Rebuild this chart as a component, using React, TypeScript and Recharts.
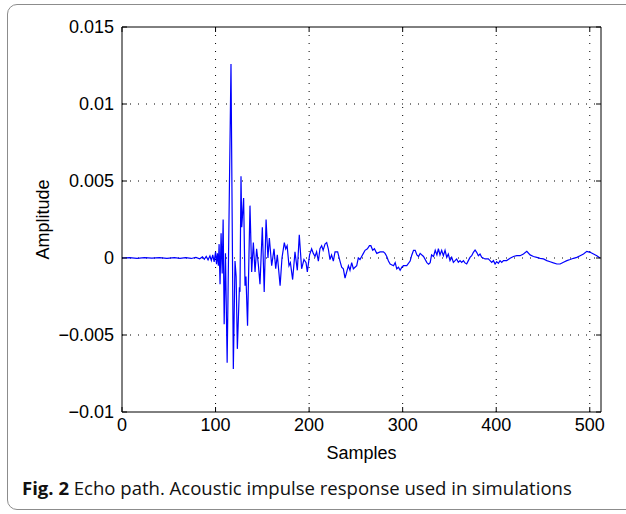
import { CartesianGrid, Label, Line, LineChart, XAxis, YAxis } from "recharts";

// impulse response (sample index, amplitude)
const samples = [
  0, 8, 16, 24, 32, 40, 48, 56, 62, 68, 74, 79, 83, 86, 88, 90, 92, 94, 95.5, 97,
  98.5, 100, 101, 102, 103, 103.8, 104.8, 105.9, 107.1, 108.1, 109.2, 110.6, 112.4, 116.5, 119, 120.8,
  122, 123.3, 125.5, 126.1, 127.2, 128, 130, 131.5, 132.5, 134.2, 136.8, 138.6, 140.4, 142.2,
  143.9, 145.7, 147.5, 150, 152, 154, 156, 157.5, 160, 162.5, 164.3, 166, 169, 171,
  173.5, 175, 176.5, 178.5, 180, 182.4, 184.9, 187.4, 189.5, 192, 194.5, 196.7, 198.1, 200.5,
  202.7, 204.5, 206.3, 208, 209.9, 211.6, 213.4, 215, 217, 218.8, 220.5, 222.3, 224, 225.9,
  227.7, 230.5, 233, 234.8, 236.6, 238.4, 240.2, 242, 243.7, 245.5, 247.3, 250.9, 252.6, 254.4,
  258, 259.8, 262.3, 264.5, 266, 268, 269.8, 272.3, 275.9, 279.4, 281.2, 283, 284.8, 286.6,
  290.2, 292, 293.7, 295.5, 297.3, 299.1, 300.9, 304.4, 308, 309.8, 311.6, 313.4, 315.2, 317,
  318.7, 322.3, 325.9, 327.7, 329.4, 330.9, 333, 334.8, 336.6, 338.2, 339.9, 341.7, 343.5, 345.3,
  347.1, 348.8, 350.6, 352.4, 354.2, 356, 357.7, 359.5, 361.3, 363.1, 364.9, 366.6, 368.4, 370.2,
  372, 373.8, 375.6, 377.4, 379.1, 380.9, 382.7, 384.5, 388.1, 391.6, 393.4, 395.2, 397, 398.8,
  400.5, 402.3, 404.1, 405.9, 407.7, 411.2, 414.8, 418.4, 421.9, 425.5, 429.1, 432.7, 436.2, 439.8,
  443.4, 446.9, 450.5, 454.1, 457.6, 461.2, 464.8, 468.3, 471.9, 475.5, 479, 482.6, 486.2, 489.7,
  493.3, 496.8, 500.4, 504, 507.5, 511,
];

const amplitude = [
  0, 0.00002, -0.00002, 0.00002, -0.00001, 0.00002, -0.00002, 0.00002, -0.00002, 0.00003, -0.00003, 0.00004, -0.00005, 0.00007, -0.00008, 0.0001, -0.00012, 0.00014, -0.00016, 0.0002,
  -0.00025, 0.0004, -0.0004, 0.0003, -0.0005, 0.0009, -0.0017, 0.0016, -0.001, 0.0025, -0.0043, 0.0003, -0.0068, 0.0126, -0.0072, -0.0002,
  -0.0012, -0.0059, -0.0019, -0.0022, 0.0053, 0.002, 0.0039, -0.0018, -0.0012, -0.0044, 0.0034, -0.0009, 0.001, -0.0009,
  0.0006, -0.0004, -0.0017, 0.002, -0.0022, 0.0025, 0, 0.0013, -0.0005, 0.0006, -0.0007, 0.0002, -0.0018, 0,
  0.001, 0.0006, 0.0008, -0.0005, -0.0003, -0.0014, 0.0004, -0.0008, 0.0015, -0.0007, -0.0001, -0.0003, -0.0009, 0.0002,
  0.0006, 0.0003, 0.0001, 0.0004, -0.0002, 0.0006, 0.0008, 0.0005, 0.0009, 0.001, 0.0006, -0.0001, 0.0002, -0.0002,
  0.0004, 0.0004, -0.0002, -0.0006, -0.0007, -0.0013, -0.0009, -0.0005, -0.0008, -0.0003, -0.0007, -0.0005, 0, -0.0001,
  0.0003, 0.0005, 0.0006, 0.0008, 0.0008, 0.0005, 0.0006, 0.0003, 0.0004, 0.0004, 0.0003, 0.0001, -0.0002, -0.0004,
  -0.0005, -0.0003, -0.0007, -0.0006, -0.0008, -0.0006, -0.0005, -0.0005, -0.0002, 0.0002, 0.0005, 0.0005, 0.0002, 0.0001,
  0.0003, 0.0001, -0.0003, -0.0004, -0.0003, 0.0002, 0.0001, 0.0005, 0.0002, 0.0006, 0.0002, 0.0005, 0.00015, 0.0005,
  0.00004, 0.00026, -0.00017, 0.00004, -0.00028, -0.00017, -0.00006, -0.00028, -0.00017, -0.00028, -0.00017, -0.00032, -0.00039, -0.00017,
  0.00004, 0.00015, 0.00037, 0.00052, 0.00037, 0.00015, 0.00026, 0.00004, -0.00006, -0.00006, -0.00017, -0.00028, -0.00017, -0.00039,
  -0.00024, -0.00035, -0.00017, -0.00028, -0.00017, -0.00017, -0.00002, 0.0001, 0.00015, 0.00015, 0.00026, 0.00043, 0.0002, 0.0001,
  0.00004, -0.00002, -0.00006, -0.00017, -0.00024, -0.00032, -0.00039, -0.00039, -0.00028, -0.00017, -0.0001, -0.00002, 0.00004, 0.00015,
  0.00026, 0.00043, 0.00037, 0.00026, 0.00015, 0,
];

const xTicks = [0, 100, 200, 300, 400, 500];
const yTicks = [-0.01, -0.005, 0, 0.005, 0.01, 0.015];

const points = samples.map((x, i) => ({ x, y: amplitude[i] }));

const FONT = "'Liberation Sans', Arial, Helvetica, sans-serif";
const tickStyle = { fontSize: 18, fill: "#000", fontFamily: FONT };

const fmtY = (v: number) => (v < 0 ? "\u2212" + String(-v) : String(v));
const blank = () => "";

export default function App() {
  return (
    <div
      style={{
        position: "fixed",
        left: 0,
        top: 0,
        width: 626,
        height: 514,
        background: "#fff",
        overflow: "hidden",
      }}
    >
      <div
        style={{
          position: "absolute",
          left: 7,
          top: 4,
          width: 660,
          height: 504,
          border: "1.5px solid #8c8c8c",
          borderRadius: 10,
        }}
      />
      <div style={{ position: "absolute", left: 0, top: 0 }}>
        <LineChart
          width={626}
          height={466}
          data={points}
          margin={{ top: 26, right: 24, bottom: 4, left: 22 }}
        >
          <CartesianGrid
            stroke="#000"
            strokeDasharray="1 7"
            verticalValues={[100, 200, 300, 400, 500]}
            horizontalValues={[-0.005, 0, 0.005, 0.01]}
          />
          <XAxis
            dataKey="x"
            type="number"
            domain={[0, 512]}
            ticks={xTicks}
            allowDataOverflow
            height={50}
            tick={tickStyle}
            tickSize={-5}
            tickMargin={11}
            stroke="#000"
            interval={0}
          >
            <Label
              value="Samples"
              position="insideBottom"
              offset={3}
              style={{ fontSize: 18, fill: "#000", fontFamily: FONT }}
            />
          </XAxis>
          <XAxis
            xAxisId="top"
            orientation="top"
            dataKey="x"
            type="number"
            domain={[0, 512]}
            ticks={xTicks}
            allowDataOverflow
            height={1}
            tickFormatter={blank}
            tickSize={-5}
            stroke="#000"
            interval={0}
          />
          <YAxis
            type="number"
            domain={[-0.01, 0.015]}
            ticks={yTicks}
            allowDataOverflow
            width={100}
            tick={tickStyle}
            tickFormatter={fmtY}
            tickSize={-5}
            tickMargin={13}
            stroke="#000"
            interval={0}
          >
            <Label
              value="Amplitude"
              angle={-90}
              position="insideLeft"
              offset={21}
              style={{ fontSize: 18, fill: "#000", fontFamily: FONT, textAnchor: "middle" }}
            />
          </YAxis>
          <YAxis
            yAxisId="right"
            orientation="right"
            type="number"
            domain={[-0.01, 0.015]}
            ticks={yTicks}
            allowDataOverflow
            width={1}
            tickFormatter={blank}
            tickSize={-5}
            stroke="#000"
            interval={0}
          />
          {/* invisible copy so the top/right frame axes get drawn */}
          <Line
            xAxisId="top"
            yAxisId="right"
            dataKey="y"
            stroke="none"
            dot={false}
            activeDot={false}
            isAnimationActive={false}
          />
          <Line
            dataKey="y"
            type="linear"
            stroke="#0000ff"
            strokeWidth={1.2}
            dot={false}
            isAnimationActive={false}
          />
        </LineChart>
      </div>
      <div
        style={{
          position: "absolute",
          left: 22,
          top: 475,
          fontFamily: "'Open Sans', sans-serif",
          fontSize: 18.55,
          color: "#111",
          whiteSpace: "nowrap",
        }}
      >
        <b>Fig. 2</b> Echo path. Acoustic impulse response used in simulations
      </div>
    </div>
  );
}
